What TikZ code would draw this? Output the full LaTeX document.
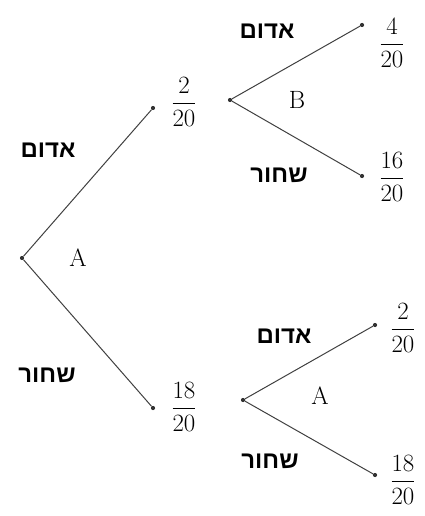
\documentclass[tikz,border=0pt]{standalone}
\usepackage{fontspec}
\usepackage{amsmath}
\newfontfamily\hebfont[Script=Hebrew]{Liberation Sans}
\TeXXeTstate=1
\usetikzlibrary{positioning}

\tikzset{
    branch/.style={draw=black!75, line width=1pt},
    dot/.style={circle, fill=black!80, inner sep=0pt, minimum size=4.2pt},
    prob/.style={font=\fontsize{32}{36}\selectfont, inner sep=0pt},
    color label/.style={font=\hebfont\bfseries\fontsize{24}{28}\selectfont, inner sep=0pt},
    stage/.style={font=\fontsize{25}{28}\selectfont, inner sep=0pt}
}

\begin{document}
\begin{tikzpicture}[x=1pt, y=-1pt]
    \useasboundingbox (0,0) rectangle (425,516);

    % first draw (A)
    \node[dot] (root) at (22,258) {};
    \node[dot] (red1) at (153,108) {};
    \node[dot] (black1) at (153,408) {};
    \draw[branch] (root) -- (red1);
    \draw[branch] (root) -- (black1);
    \node[stage] (stA) at (78,258) {A};
    \node[color label] (lblRed) at (48,150) {\beginR אדום\endR};
    \node[color label] (lblBlack) at (47,375) {\beginR שחור\endR};
    \node[prob] (pRed) at (184,102) {$\dfrac{2}{20}$};
    \node[prob] (pBlack) at (184,407) {$\dfrac{18}{20}$};

    % second draw after red (B)
    \node[dot] (rootB) at (230,100) {};
    \node[dot] (redB) at (362,25) {};
    \node[dot] (blackB) at (362,176) {};
    \draw[branch] (rootB) -- (redB);
    \draw[branch] (rootB) -- (blackB);
    \node[stage] (stB) at (297,100) {B};
    \node[color label] (lblRedB) at (267,31) {\beginR אדום\endR};
    \node[color label] (lblBlackB) at (279,175) {\beginR שחור\endR};
    \node[prob] (pRedB) at (392,43) {$\dfrac{4}{20}$};
    \node[prob] (pBlackB) at (392,177) {$\dfrac{16}{20}$};

    % second draw after black (A)
    \node[dot] (rootC) at (243,400) {};
    \node[dot] (redC) at (375,325) {};
    \node[dot] (blackC) at (375,475) {};
    \draw[branch] (rootC) -- (redC);
    \draw[branch] (rootC) -- (blackC);
    \node[stage] (stC) at (320,396) {A};
    \node[color label] (lblRedC) at (284,336) {\beginR אדום\endR};
    \node[color label] (lblBlackC) at (270,461) {\beginR שחור\endR};
    \node[prob] (pRedC) at (403,328) {$\dfrac{2}{20}$};
    \node[prob] (pBlackC) at (403,480) {$\dfrac{18}{20}$};
\end{tikzpicture}
\end{document}
